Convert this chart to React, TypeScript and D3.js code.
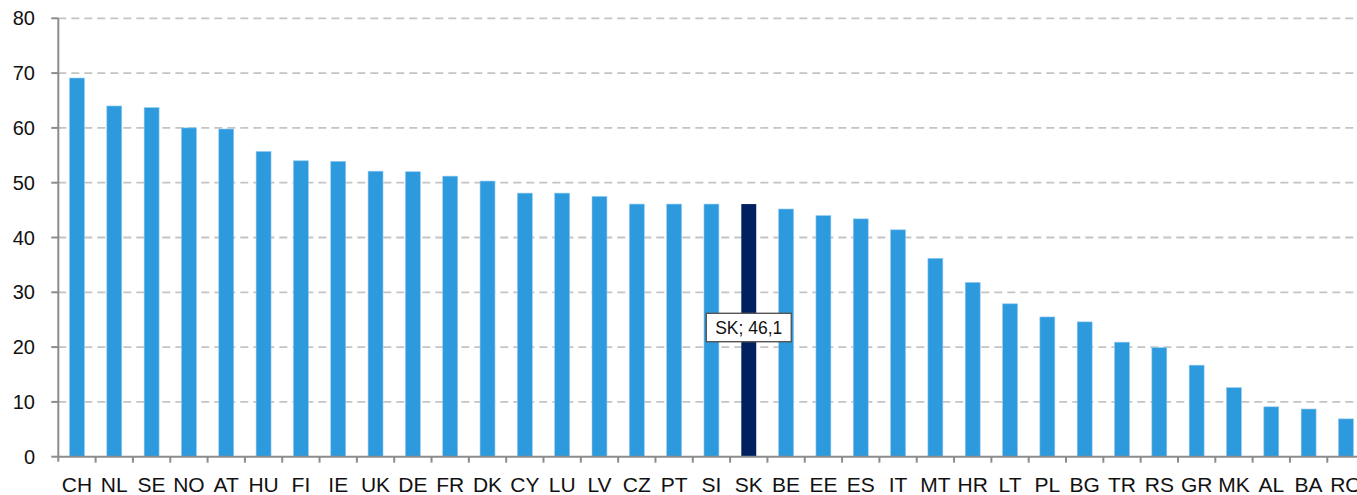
import React from "react";
import * as d3 from "d3";

const categories = ["CH","NL","SE","NO","AT","HU","FI","IE","UK","DE","FR","DK","CY","LU","LV","CZ","PT","SI","SK","BE","EE","ES","IT","MT","HR","LT","PL","BG","TR","RS","GR","MK","AL","BA","RO"];
const values = [69.1,64.0,63.7,60.0,59.8,55.7,54.0,53.9,52.1,52.0,51.2,50.3,48.1,48.1,47.5,46.1,46.1,46.1,46.1,45.2,44.0,43.4,41.4,36.2,31.8,27.9,25.5,24.6,20.9,19.9,16.7,12.6,9.1,8.7,6.9];
const yTicks = [0,10,20,30,40,50,60,70,80];
const highlight = "SK";
const annotation = "SK; 46,1";

const W = 1357, H = 495;
const left = 58.3, right = 1364.6, top = 18.3, bottom = 456.7;

export default function App() {
  const x = d3.scaleBand<string>().domain(categories).range([left, right]).paddingInner(0.6).paddingOuter(0.3);
  const xb = d3.scaleBand<string>().domain(categories).range([left, right]);
  const y = d3.scaleLinear().domain([0, 80]).range([bottom, top]);
  const font = "'Liberation Sans', Arial, Helvetica, sans-serif";
  const hx = (xb(highlight) as number) + xb.bandwidth() / 2;
  return (
    <svg width={W} height={H} style={{ position: "absolute", left: 0, top: 0, background: "#fff" }} fontFamily={font}>
      {yTicks.filter(t => t > 0).map(t => (
        <line key={"g" + t} x1={left} x2={W} y1={y(t)} y2={y(t)} stroke="#c4c4c4" strokeWidth={1.8} strokeDasharray="8,5" />
      ))}
      {categories.map((c, i) => (
        <rect key={c} x={x(c)} y={y(values[i])} width={x.bandwidth()} height={bottom - y(values[i])}
          fill={c === highlight ? "#00205f" : "#2e9ade"} stroke={c === highlight ? "none" : "#8fcaf0"} strokeWidth={0.6} />
      ))}
      <line x1={left} x2={left} y1={top} y2={bottom + 5} stroke="#8c8c8c" strokeWidth={2} />
      <line x1={left} x2={W} y1={bottom} y2={bottom} stroke="#8c8c8c" strokeWidth={2} />
      {yTicks.map(t => (
        <g key={"t" + t}>
          <line x1={left - 7} x2={left} y1={y(t)} y2={y(t)} stroke="#8c8c8c" strokeWidth={2} />
          <text x={35} y={y(t) + 7} textAnchor="end" fontSize={20} fill="#111">{t}</text>
        </g>
      ))}
      {categories.map((c, i) => (
        <g key={"x" + c}>
          {i > 0 && <line x1={xb(c)} x2={xb(c)} y1={bottom} y2={bottom + 6} stroke="#8c8c8c" strokeWidth={2} />}
          <text x={(xb(c) as number) + xb.bandwidth() / 2} y={492} textAnchor="middle" fontSize={21} fill="#111">{c}</text>
        </g>
      ))}
      <g>
        <rect x={hx - 42.5} y={313.3} width={85} height={28.4} fill="#fff" stroke="#555" strokeWidth={1.4} />
        <text x={hx} y={334} textAnchor="middle" fontSize={17.5} fill="#111">{annotation}</text>
      </g>
    </svg>
  );
}
